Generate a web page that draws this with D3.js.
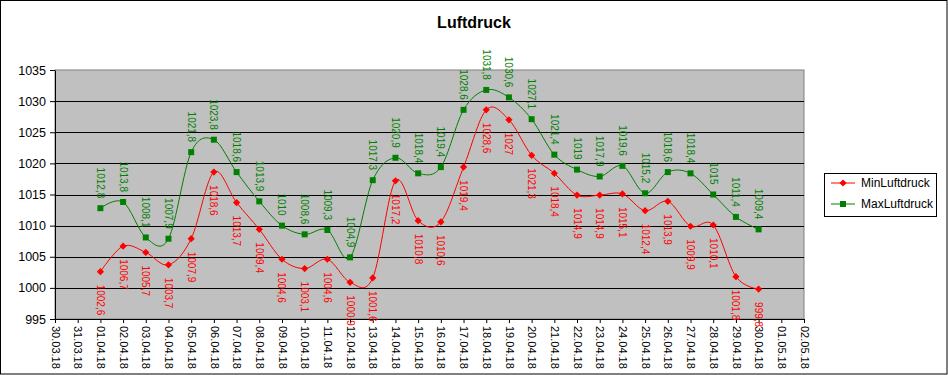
<!DOCTYPE html>
<html>
<head>
<meta charset="utf-8">
<script src="https://d3js.org/d3.v7.min.js"></script>
<style>
  body { margin: 0; background: #fff; }
  svg { display: block; font-family: "Liberation Sans", Arial, sans-serif; }
</style>
</head>
<body>
<svg id="drawing_region"></svg>
<script>
// dates of the measurements
var dates = ["01.04.18","02.04.18","03.04.18","04.04.18","05.04.18","06.04.18","07.04.18","08.04.18","09.04.18","10.04.18",
             "11.04.18","12.04.18","13.04.18","14.04.18","15.04.18","16.04.18","17.04.18","18.04.18","19.04.18","20.04.18",
             "21.04.18","22.04.18","23.04.18","24.04.18","25.04.18","26.04.18","27.04.18","28.04.18","29.04.18","30.04.18"];

var min_values = [1002.6,1006.7,1005.7,1003.7,1007.9,1018.6,1013.7,1009.4,1004.6,1003.1,
                  1004.6,1000.9,1001.6,1017.2,1010.8,1010.6,1019.4,1028.6,1027,1021.3,
                  1018.4,1014.9,1014.9,1015.1,1012.4,1013.9,1009.9,1010.1,1001.8,999.8];

var max_values = [1012.8,1013.8,1008.1,1007.9,1021.8,1023.8,1018.6,1013.9,1010,1008.6,
                  1009.3,1004.9,1017.3,1020.9,1018.4,1019.4,1028.6,1031.8,1030.6,1027.1,
                  1021.4,1019,1017.9,1019.6,1015.2,1018.6,1018.4,1015,1011.4,1009.4];

var y_ticks = [995,1000,1005,1010,1015,1020,1025,1030,1035];
var x_range = ["30.03.18","02.05.18"];

var parse = d3.timeParse("%d.%m.%y");
var fmt_date = d3.timeFormat("%d.%m.%y");
var fmt_val = v => String(v).replace(".", ",");

var series = [
    { name: "MinLuftdruck", values: min_values, color: "#ff0000", size: 26, rotate: 45, above: false },
    { name: "MaxLuftdruck", values: max_values, color: "#008000", size: 36, rotate: 0, above: true }
];

var config = {
    width: 948,
    height: 375,
    margin: {top: 70, right: 144, bottom: 56, left: 55}
};

var svg = d3.select('#drawing_region')
    .attr('width', config.width)
    .attr('height', config.height);

// outer border
svg.append('rect')
    .attr('x', 0.5).attr('y', 0.5)
    .attr('width', config.width - 1.5).attr('height', config.height - 1.5)
    .attr('fill', 'white').attr('stroke', 'black');

var inner_width = config.width - config.margin.left - config.margin.right;
var inner_height = config.height - config.margin.top - config.margin.bottom;

var chart = svg.append('g')
    .attr('transform', `translate(${config.margin.left}, ${config.margin.top})`);

var xscale = d3.scaleTime()
    .domain(x_range.map(parse))
    .range([0, inner_width]);

var yscale = d3.scaleLinear()
    .domain([d3.min(y_ticks), d3.max(y_ticks)])
    .range([inner_height, 0]);

// plot area
chart.append('rect')
    .attr('width', inner_width)
    .attr('height', inner_height)
    .attr('fill', '#c0c0c0')
    .attr('stroke', '#808080');

// grid lines
chart.append('g')
    .selectAll('line')
    .data(y_ticks.slice(1, -1))
    .join('line')
    .attr('x1', 0).attr('x2', inner_width)
    .attr('y1', d => Math.round(yscale(d)) + 0.5)
    .attr('y2', d => Math.round(yscale(d)) + 0.5)
    .attr('stroke', 'black');

// y axis
var yaxis = d3.axisLeft(yscale)
    .tickValues(y_ticks)
    .tickFormat(d3.format('d'))
    .tickSize(5)
    .tickSizeOuter(0)
    .tickPadding(4);

var yaxis_group = chart.append('g').call(yaxis);
yaxis_group.selectAll('text')
    .attr('font-size', '12.5px')
    .attr('fill', 'black')
    .attr('font-family', '"Liberation Sans", Arial, sans-serif');
yaxis_group.select('.domain').attr('stroke', 'black');

// x axis
var xaxis = d3.axisBottom(xscale)
    .ticks(d3.timeDay.every(1))
    .tickFormat(fmt_date)
    .tickSize(4)
    .tickSizeOuter(0);

var xaxis_group = chart.append('g')
    .attr('transform', `translate(0, ${inner_height})`)
    .call(xaxis);
xaxis_group.select('.domain').attr('stroke', 'black');
xaxis_group.selectAll('text')
    .attr('font-size', '11px')
    .attr('fill', 'black')
    .attr('font-family', '"Liberation Sans", Arial, sans-serif')
    .attr('text-anchor', 'start')
    .attr('x', 0)
    .attr('y', 0)
    .attr('dy', '0.35em')
    .attr('transform', 'translate(0, 7) rotate(90)');

// series
var line = d3.line()
    .x(d => xscale(d.date))
    .y(d => yscale(d.value))
    .curve(d3.curveCatmullRom.alpha(0));

var marker = s => d3.symbol().type(d3.symbolSquare).size(s.size)();

series.forEach(s => {
    var data = dates.map((d, i) => ({ date: parse(d), value: s.values[i] }));
    var g = chart.append('g');

    g.append('path')
        .datum(data)
        .attr('d', line)
        .attr('fill', 'none')
        .attr('stroke', s.color)
        .attr('stroke-width', 1);

    g.selectAll('path.marker')
        .data(data)
        .join('path')
        .attr('class', 'marker')
        .attr('d', marker(s))
        .attr('transform', d => `translate(${xscale(d.date)}, ${yscale(d.value)}) rotate(${s.rotate})`)
        .attr('fill', s.color);

    g.selectAll('text')
        .data(data)
        .join('text')
        .attr('font-size', '10px')
        .attr('fill', s.color)
        .attr('text-anchor', s.above ? 'end' : 'start')
        .attr('dy', '0.35em')
        .attr('transform', d => `translate(${xscale(d.date)}, ${yscale(d.value) + (s.above ? -10 : 13)}) rotate(90)`)
        .text(d => fmt_val(d.value));
});

// title
svg.append('text')
    .attr('x', 474)
    .attr('y', 28)
    .attr('text-anchor', 'middle')
    .attr('font-size', '16px')
    .attr('font-weight', 'bold')
    .text('Luftdruck');

// legend
var legend = svg.append('g')
    .attr('transform', 'translate(824, 173)');

legend.append('rect')
    .attr('x', 0.5).attr('y', 0.5)
    .attr('width', 112).attr('height', 43)
    .attr('fill', 'white')
    .attr('stroke', 'black');

series.forEach((s, i) => {
    var row = legend.append('g')
        .attr('transform', `translate(0, ${10 + i * 21})`);
    row.append('line')
        .attr('x1', 7).attr('x2', 31)
        .attr('y1', 0).attr('y2', 0)
        .attr('stroke', s.color);
    row.append('path')
        .attr('d', marker(s))
        .attr('transform', `translate(19, 0) rotate(${s.rotate})`)
        .attr('fill', s.color);
    row.append('text')
        .attr('x', 37)
        .attr('y', 0)
        .attr('dy', '0.35em')
        .attr('font-size', '12px')
        .text(s.name);
});
</script>
</body>
</html>
